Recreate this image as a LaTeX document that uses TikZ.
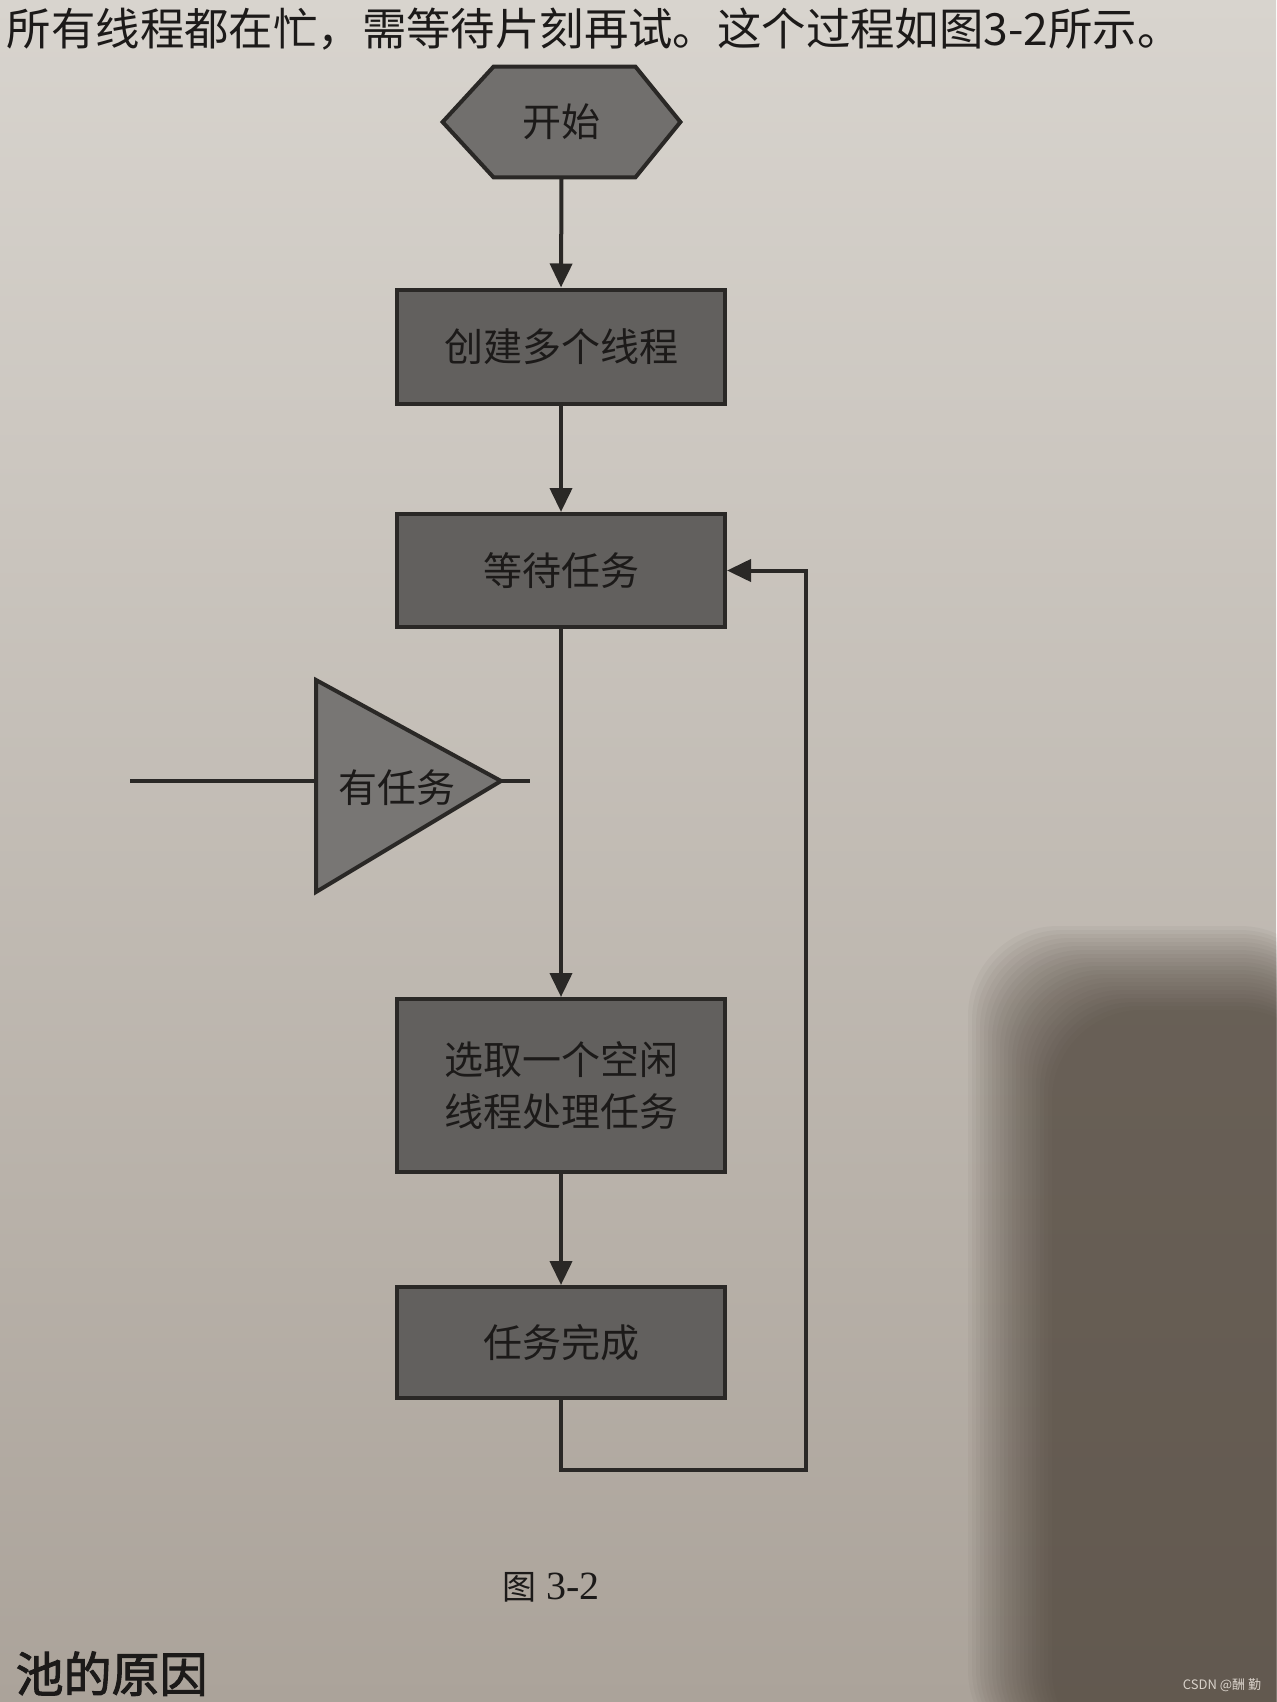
\documentclass[tikz,border=0pt]{standalone}
\usepackage{fontspec}
\setmainfont{Noto Sans CJK SC}
\newfontfamily\cjk{Noto Sans CJK SC}
\newfontfamily\cjkbold[FakeBold=2]{Noto Sans CJK SC}
\newfontfamily\serifdig{Liberation Serif}
\usetikzlibrary{arrows.meta}
\pgfdeclarelayer{paper}
\pgfdeclarelayer{background}
\pgfsetlayers{paper,background,main}
\definecolor{bgtop}{HTML}{D8D4CE}
\definecolor{bgmid}{HTML}{C8C2BA}
\definecolor{bgbot}{HTML}{ABA39A}
\definecolor{shadowc}{HTML}{40362C}
\definecolor{boxc}{HTML}{62605E}
\definecolor{hexc}{HTML}{716F6D}
\definecolor{tric}{HTML}{787674}
\definecolor{linec}{HTML}{2A2826}
\definecolor{txtc}{HTML}{1C1A19}
\definecolor{wmc}{HTML}{D9D2CA}
\begin{document}
\begin{tikzpicture}[x=0.5pt,y=-0.5pt,
  box/.style={draw=linec, line width=2pt, fill=boxc, minimum width=164pt,
    inner sep=0pt, text=txtc, font=\cjk\fontsize{19.5}{26}\selectfont, align=center},
  label/.style={inner sep=0pt, text=txtc, font=\cjk\fontsize{19.5}{26}\selectfont},
  shapeline/.style={draw=linec, line width=2pt, line join=miter},
  conn/.style={draw=linec, line width=2pt},
  arr/.style={conn, -{Triangle[length=12pt,width=11pt]}},
  pagetext/.style={inner sep=0pt, text=txtc}]

\useasboundingbox (0,0) rectangle (1276,1702);

% paper and photo shading
\begin{pgfonlayer}{paper}
  \shade[top color=bgtop, middle color=bgmid, bottom color=bgbot] (0,0) rectangle (1276,1702);
  \foreach \i in {0,...,21} {
    \fill[shadowc, opacity=0.042, rounded corners=45pt]
      (968+4*\i,926+4*\i) rectangle (1330,1760);
  }
\end{pgfonlayer}

% page text
\node[pagetext, anchor=east, font=\cjk\fontsize{22.2}{22.2}\selectfont] (toptext) at (1182,29)
  {所有线程都在忙，需等待片刻再试。这个过程如图3-2所示。};
\node[pagetext, anchor=base east, font=\cjkbold\fontsize{24}{24}\selectfont] (head) at (208,1692) {池的原因};
\node[pagetext] (cap) at (551,1587)
  {{\cjk\fontsize{17}{17}\selectfont 图}\hspace{5pt}{\serifdig\fontsize{20}{20}\selectfont 3-2}};
\node[inner sep=0pt, text=wmc, font=\fontsize{6.5}{7}\selectfont] (wm) at (1222,1685) {CSDN @酬 勤};

% start hexagon
\node[label, minimum width=118.5pt, minimum height=55pt] (start) at (561.5,122) {开始};
\begin{pgfonlayer}{background}
  \path[shapeline, fill=hexc] (start.west) -- ([xshift=25.5pt]start.north west)
    -- ([xshift=-22.5pt]start.north east) -- (start.east)
    -- ([xshift=-22.5pt]start.south east) -- ([xshift=25.5pt]start.south west) -- cycle;
\end{pgfonlayer}

% boxes
\node[box, minimum height=57pt] (create) at (561,346.5) {创建多个线程};
\node[box, minimum height=56.5pt] (wait) at (561,570.5) {等待任务};
\node[box, minimum height=86.5pt] (select) at (561,1085.5) {选取一个空闲\\线程处理任务};
\node[box, minimum height=55.5pt] (done) at (561,1342.5) {任务完成};

% triangle with text
\coordinate (triA) at (316,680);
\coordinate (triB) at (316,892);
\coordinate (triC) at (501,781);
\coordinate (inL) at (130,781);
\coordinate (outR) at (530,781);
\node[label] (tri) at (397,788) {有任务};
\begin{pgfonlayer}{background}
  \path[shapeline, fill=tric] (triA) -- (triC) -- (triB) -- cycle;
\end{pgfonlayer}
\draw[conn] (inL) -- (triA |- triC);
\draw[conn] (triC) -- (outR);

% flow connectors
\draw[arr] (start.south) -- (create.north);
\draw[arr] (create.south) -- (wait.north);
\draw[arr] (wait.south) -- (select.north);
\draw[arr] (select.south) -- (done.north);

% loop back
\coordinate (rb) at (806,1470);
\draw[arr] (done.south) -- (done.south |- rb) -- (rb) -- (rb |- wait.east) -- (wait.east);
\end{tikzpicture}
\end{document}
